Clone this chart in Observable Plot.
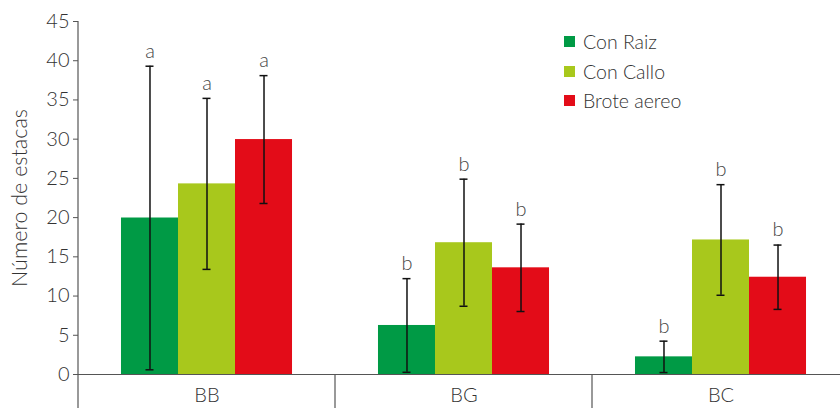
<!DOCTYPE html>
<html><head><meta charset="utf-8">
<script src="https://cdn.jsdelivr.net/npm/d3@7"></script>
<script src="https://cdn.jsdelivr.net/npm/@observablehq/plot@0.6"></script>
<style>
body{margin:0;background:#fff;}
#wrap{position:relative;width:840px;height:408px;overflow:hidden;}
#legend{position:absolute;left:564px;top:27px;font-family:Lato,sans-serif;font-weight:300;font-size:19.5px;color:#333;}
#legend .row{display:flex;align-items:center;height:29.5px;}
#legend .sw{width:11px;height:11px;margin-right:8px;display:inline-block;}
</style></head><body><div id="wrap"></div>
<script>
const categories = ["BB", "BG", "BC"];
const series = ["Con Raiz", "Con Callo", "Brote aereo"];
const seriesColors = ["#009a45", "#a8c81c", "#e30c18"];
const conRaiz = [19.95, 6.25, 2.25];
const conRaizErr = [19.35, 5.97, 2.0];
const conCallo = [24.3, 16.8, 17.15];
const conCalloErr = [10.9, 8.1, 7.05];
const broteAereo = [29.95, 13.6, 12.4];
const broteAereoErr = [8.15, 5.57, 4.1];
const letters = [["a", "b", "b"], ["a", "b", "b"], ["a", "b", "b"]];
const yTicks = [0, 5, 10, 15, 20, 25, 30, 35, 40, 45];

const means = [conRaiz, conCallo, broteAereo];
const errs = [conRaizErr, conCalloErr, broteAereoErr];
const data = [];
categories.forEach((c, i) => series.forEach((s, j) => {
  data.push({cat: c, series: s, mean: means[j][i], lo: means[j][i] - errs[j][i], hi: means[j][i] + errs[j][i], letter: letters[j][i]});
}));

const font = "Lato, sans-serif";
const plot = Plot.plot({
  width: 840, height: 408,
  marginLeft: 78, marginRight: -9, marginTop: 21, marginBottom: 34,
  style: {fontFamily: font, fontSize: "20px", fontWeight: 300, color: "#333", background: "white"},
  fx: {domain: categories, padding: 0, round: false, label: null},
  x: {domain: series, paddingInner: 0, paddingOuter: 0.754, round: false, axis: null},
  y: {domain: [0, 45], label: null},
  color: {domain: series, range: seriesColors},
  marks: [
    Plot.barY(data, {fx: "cat", x: "series", y: "mean", fill: "series"}),
    Plot.ruleY([0], {stroke: "#555", strokeWidth: 1.2}),
    Plot.ruleX(data, {fx: "cat", x: "series", y1: "lo", y2: "hi", stroke: "#111", strokeWidth: 1.5}),
    Plot.tickY(data, {fx: "cat", x: "series", y: "hi", stroke: "#111", strokeWidth: 1.5, insetLeft: 24.5, insetRight: 24.5}),
    Plot.tickY(data, {fx: "cat", x: "series", y: "lo", stroke: "#111", strokeWidth: 1.5, insetLeft: 24.5, insetRight: 24.5}),
    Plot.text(data, {fx: "cat", x: "series", y: "hi", text: "letter", dy: -15, fill: "#444", fontSize: 20, opacity: 0.99}),
    Plot.axisY({ticks: yTicks, tickSize: 5, tickPadding: 4, stroke: "#555", fontSize: 20, label: null}),
    Plot.axisY({ticks: [], label: "Número de estacas", labelAnchor: "center", labelArrow: "none", labelOffset: 67, fontSize: 21.5}),
    Plot.axisFx({anchor: "bottom", tickSize: 0, tickPadding: 13, fontSize: 20, label: null})
  ]
});

const wrap = document.getElementById("wrap");
wrap.appendChild(plot);

// axis lines and category separators derived from scales
const svg = d3.select(plot);
const fx = plot.scale("fx"), y = plot.scale("y");
const y0 = y.apply(0), yTop = y.apply(45);
const g = svg.append("g").attr("stroke", "#555").attr("stroke-width", 1.2);
g.append("line").attr("x1", fx.apply(categories[0])).attr("x2", fx.apply(categories[0])).attr("y1", yTop).attr("y2", 408);
categories.slice(1).forEach(c => {
  const xx = fx.apply(c);
  g.append("line").attr("x1", xx).attr("x2", xx).attr("y1", y0).attr("y2", 408);
});

// legend
const lg = document.createElement("div");
lg.id = "legend";
series.forEach((s, i) => {
  const r = document.createElement("div"); r.className = "row";
  const sw = document.createElement("span"); sw.className = "sw"; sw.style.background = seriesColors[i];
  r.appendChild(sw); r.appendChild(document.createTextNode(s));
  lg.appendChild(r);
});
wrap.appendChild(lg);
</script>
</body></html>
